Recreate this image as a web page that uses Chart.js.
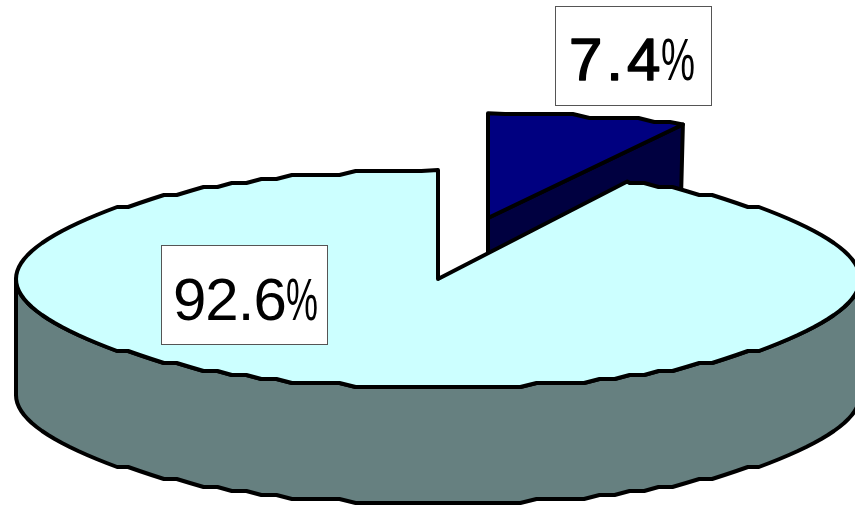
<!DOCTYPE html>
<html>
<head>
<meta charset="utf-8">
<style>html,body{margin:0;padding:0;background:#fff;overflow:hidden}canvas{display:block}</style>
<script src="https://cdn.jsdelivr.net/npm/chart.js@4"></script>
</head>
<body>
<canvas id="c" width="855" height="505"></canvas>
<script>
const categories = ['Slice A', 'Slice B'];
const values = [7.4, 92.6];
const valueLabels = ['7.4', '92.6'];
const topColors = ['#000080', '#CCFFFF'];
const sideColors = ['#000040', '#668080'];

const SQUASH = 109 / 422, DEPTH = 116, LINE = 4, SNAP = 4, STEP = Math.PI / 80;
const EXPLODE = [{x: 50, y: -61, sx: 1.03, sy: 0.96}, {x: 0, y: 0, sx: 1, sy: 1}];
const BOXES = [
  {x: 555.5, y: 6.5, w: 156, h: 99, tx: 569, ty: 80, font: '60px "Liberation Sans"', space: '4px', heavy: 1.5, pctX: 661, pctW: 34},
  {x: 161.5, y: 245.5, w: 166, h: 99, tx: 173, ty: 320, font: '60px "Liberation Sans"', space: '-1px', heavy: 0, pctX: 286, pctW: 32}
];

// Outline of an elliptical arc, with the coarse stepping of the original rendering.
function rim(ctx, cx, cy, rx, ry, a0, a1) {
  ctx.lineTo(cx + rx * Math.cos(a0), cy + ry * Math.sin(a0));
  const up = a1 > a0;
  const first = up ? Math.floor(a0 / STEP) + 1 : Math.ceil(a0 / STEP) - 1;
  for (let k = first; up ? k * STEP < a1 : k * STEP > a1; k += up ? 1 : -1) {
    const a = k * STEP;
    ctx.lineTo(cx + rx * Math.cos(a), cy + Math.round(ry * Math.sin(a) / SNAP) * SNAP);
  }
  ctx.lineTo(cx + rx * Math.cos(a1), cy + ry * Math.sin(a1));
}

const pie3d = {
  id: 'pie3d',
  beforeDatasetsDraw(chart) {
    const ctx = chart.ctx;
    const arcs = chart.getDatasetMeta(0).data;
    arcs.forEach((el, i) => {
      const p = el.getProps(['x', 'y', 'startAngle', 'endAngle', 'outerRadius'], true);
      const e = EXPLODE[i];
      const cx = p.x + e.x, cy = p.y + e.y;
      const rx = p.outerRadius * e.sx, ry = p.outerRadius * SQUASH * e.sy;
      ctx.save();
      ctx.lineWidth = LINE; ctx.strokeStyle = '#000'; ctx.lineJoin = 'round'; ctx.lineCap = 'round';
      ctx.fillStyle = sideColors[i];
      ctx.beginPath();
      if (p.endAngle < 0) {
        const tx = cx + rx * Math.cos(p.endAngle), ty = cy + ry * Math.sin(p.endAngle);
        ctx.moveTo(cx, cy); ctx.lineTo(tx, ty);
        ctx.lineTo(tx - 3, ty + DEPTH); ctx.lineTo(cx, cy + DEPTH);
      } else {
        rim(ctx, cx, cy, rx, ry, 0, Math.PI);
        rim(ctx, cx, cy + DEPTH, rx, ry, Math.PI, 0);
      }
      ctx.closePath(); ctx.fill(); ctx.stroke();
      ctx.fillStyle = topColors[i];
      ctx.beginPath();
      ctx.moveTo(cx, cy);
      rim(ctx, cx, cy, rx, ry, p.startAngle, p.endAngle);
      ctx.closePath(); ctx.fill(); ctx.stroke();
      ctx.restore();
    });
    return false;
  },
  afterDraw(chart) {
    const ctx = chart.ctx;
    BOXES.forEach((b, i) => {
      ctx.save();
      ctx.fillStyle = '#fff'; ctx.strokeStyle = '#555'; ctx.lineWidth = 1;
      ctx.fillRect(b.x, b.y, b.w, b.h); ctx.strokeRect(b.x, b.y, b.w, b.h);
      ctx.fillStyle = '#000'; ctx.textBaseline = 'alphabetic'; ctx.textAlign = 'left';
      ctx.font = b.font; ctx.letterSpacing = b.space;
      ctx.fillText(valueLabels[i], b.tx, b.ty);
      if (b.heavy) { ctx.strokeStyle = '#000'; ctx.lineWidth = b.heavy; ctx.lineJoin = 'round'; ctx.strokeText(valueLabels[i], b.tx, b.ty); }
      ctx.letterSpacing = '0px';
      const w = ctx.measureText('%').width;
      ctx.translate(b.pctX, b.ty); ctx.scale(b.pctW / w, 1);
      ctx.fillText('%', 0, 0);
      ctx.restore();
    });
  }
};

new Chart(document.getElementById('c'), {
  type: 'pie',
  data: {labels: categories, datasets: [{data: values, backgroundColor: topColors, borderColor: '#000', borderWidth: 3}]},
  options: {
    responsive: false, animation: false, radius: 422,
    layout: {padding: {left: 21, top: 53}},
    plugins: {legend: {display: false}, title: {display: false}, tooltip: {enabled: false}}
  },
  plugins: [pie3d]
});
</script>
</body>
</html>
